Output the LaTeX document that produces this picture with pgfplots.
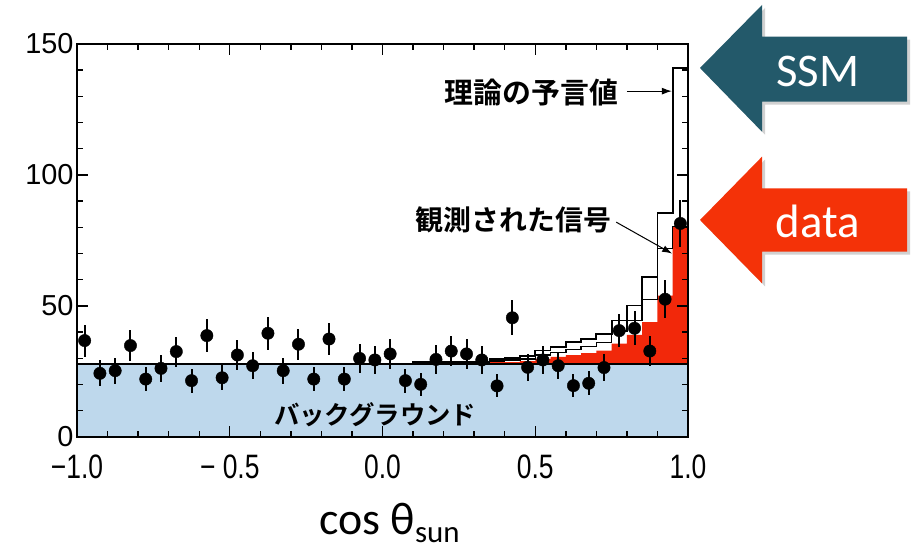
\documentclass[border=0pt]{standalone}
\usepackage{graphicx}
\usepackage{pgfplots}
\pgfplotsset{compat=1.18}
\usepackage{pgfplotstable}
\usepackage{fontspec}
\setmainfont{Liberation Sans}
\newfontfamily\calib{Carlito}
\newfontfamily\jp{Noto Sans CJK JP}[BoldFont={Noto Sans CJK JP Bold}]
\usetikzlibrary{arrows.meta}
\definecolor{bgblue}{RGB}{190,216,236}
\definecolor{sigred}{RGB}{242,40,10}
\definecolor{ssmteal}{RGB}{35,89,106}
\definecolor{datared}{RGB}{244,50,8}

\pgfplotstableread{
x y e
-0.975 36.8 6.1
-0.925 24.3 4.9
-0.875 25.3 5.0
-0.825 34.9 5.9
-0.775 22.1 4.7
-0.725 26.2 5.1
-0.675 32.6 5.7
-0.625 21.5 4.6
-0.575 38.7 6.2
-0.525 22.6 4.8
-0.475 31.3 5.6
-0.425 27.2 5.2
-0.375 39.6 6.3
-0.325 25.3 5.0
-0.275 35.4 5.9
-0.225 22.1 4.7
-0.175 37.4 6.1
-0.125 22.1 4.7
-0.075 30.0 5.5
-0.025 29.4 5.4
0.025 31.7 5.6
0.075 21.5 4.6
0.125 20.1 4.5
0.175 29.6 5.4
0.225 32.8 5.7
0.275 31.7 5.6
0.325 29.4 5.4
0.375 19.5 4.4
0.425 45.5 6.7
0.475 26.6 5.2
0.525 29.4 5.4
0.575 27.2 5.2
0.625 19.6 4.4
0.675 20.5 4.5
0.725 26.5 5.1
0.775 40.6 6.4
0.825 41.5 6.4
0.875 32.8 5.7
0.925 52.6 7.3
0.975 81.5 9.0
}\datatable

\pgfplotstableread{
x y
0.10 28.0
0.10 28.7
0.35 29.8
0.40 30.2
0.45 31.0
0.50 33.0
0.55 34.5
0.60 36.3
0.65 37.3
0.70 39.3
0.75 44.5
0.80 50.2
0.85 61.0
0.90 85.5
0.95 140.7
1.00 140.7
}\ssmtable

\pgfplotstableread{
x y
0.10 28.0
0.10 28.3
0.35 29.0
0.40 29.3
0.45 29.8
0.50 31.3
0.55 32.3
0.60 33.3
0.65 34.5
0.70 36.0
0.75 40.5
0.80 44.5
0.85 52.5
0.90 72.0
0.95 80.3
1.00 80.3
}\innertable

\pgfplotstableread{
x y
0.30 28.2
0.35 28.6
0.40 28.6
0.45 29.0
0.50 29.8
0.55 30.6
0.60 31.2
0.65 32.0
0.70 33.0
0.75 35.6
0.80 39.0
0.85 43.8
0.90 54.0
0.95 80.3
1.00 80.3
}\redtable

\begin{document}
\begin{tikzpicture}[x=1bp,y=1bp]
\path[use as bounding box] (0,0) rectangle (915,549);
% block arrows
\fill[black, opacity=0.18] (703,478) -- (765,541) -- (765,509.3) -- (910,509.3) -- (910,444.3) -- (765,444.3) -- (765,414.3) -- cycle;
\fill[ssmteal] (700,481) -- (762,544) -- (762,512.3) -- (907,512.3) -- (907,447.3) -- (762,447.3) -- (762,417.3) -- cycle;
\node[text=white, font=\calib\fontsize{47}{47}\selectfont, inner sep=0pt] at (818,478) {SSM};
\fill[black, opacity=0.18] (703,326) -- (765,389.3) -- (765,357.7) -- (910,357.7) -- (910,294.3) -- (765,294.3) -- (765,262.7) -- cycle;
\fill[datared] (700,329) -- (762,392.3) -- (762,360.7) -- (907,360.7) -- (907,297.3) -- (762,297.3) -- (762,265.7) -- cycle;
\node[text=white, font=\calib\fontsize{47}{47}\selectfont, inner sep=0pt] at (818,328) {data};
% axis label
\node[anchor=base west, inner sep=0pt, font=\calib\fontsize{46}{46}\selectfont] at (319,14) {cos θ\raisebox{-8bp}{\fontsize{31}{31}\selectfont sun}};
\begin{axis}[
  at={(77bp,112bp)}, anchor=south west,
  scale only axis, width=611bp, height=393bp,
  xmin=-1, xmax=1, ymin=0, ymax=150,
  clip=false, axis on top,
  xtick={-1,-0.5,0,0.5,1},
  xticklabels={\scalebox{0.78}[1]{−1.0},\scalebox{0.78}[1]{− 0.5},\scalebox{0.78}[1]{0.0},\scalebox{0.78}[1]{0.5},\scalebox{0.78}[1]{1.0}},
  minor x tick num=4,
  ytick={0,50,100,150},
  yticklabels={0,50,100,150},
  minor y tick num=4,
  tick align=inside,
  major tick length=11bp, minor tick length=6bp,
  tick style={black, line width=1.4bp},
  axis line style={line width=2.2bp},
  xticklabel style={font=\fontsize{34}{34}\selectfont, inner ysep=1bp, yshift=-17bp},
  yticklabel style={font=\fontsize{29}{29}\selectfont, inner ysep=0pt},
]
\addplot[fill=sigred, draw=none, const plot] table[x=x,y=y] {\redtable} \closedcycle;
\addplot[fill=bgblue, draw=none] coordinates {(-1,28) (1,28)} \closedcycle;
\addplot[black, line width=1.8bp] coordinates {(-1,28) (1,28)};
\addplot[black, line width=1.5bp, const plot] table[x=x,y=y] {\innertable};
\addplot[black, line width=1.8bp, const plot] table[x=x,y=y] {\ssmtable};
\addplot[only marks, mark=*, mark size=6.2bp, black,
  error bars/.cd, y dir=both, y explicit, error mark=none,
  error bar style={line width=2bp}]
  table[x=x, y=y, y error=e] {\datatable};
% annotations
\node[font=\jp\bfseries\fontsize{29}{29}\selectfont, inner sep=0pt] at (axis cs:0.488,131.5) {理論の予言値};
\draw[-{Latex[length=10bp,width=7bp]}, line width=1bp] (axis cs:0.80,132) -- (axis cs:0.947,132);
\node[font=\jp\bfseries\fontsize{28}{28}\selectfont, inner sep=0pt] at (axis cs:0.429,83) {観測された信号};
\draw[-{Latex[length=10bp,width=7bp]}, line width=1bp] (axis cs:0.765,82) -- (axis cs:0.948,70);
\node[font=\jp\bfseries\fontsize{25.5}{25.5}\selectfont, inner sep=0pt] at (axis cs:-0.024,8.5) {バックグラウンド};
\end{axis}
\end{tikzpicture}
\end{document}
